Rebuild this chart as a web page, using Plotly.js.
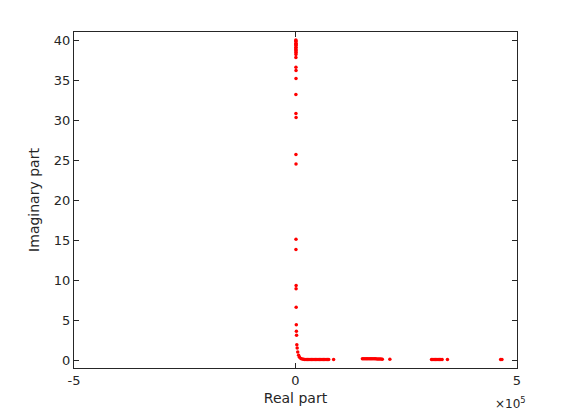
<!DOCTYPE html>
<html>
<head>
<meta charset="utf-8">
<script src="https://cdn.plot.ly/plotly-3.0.1.min.js"></script>
<style>body{margin:0;background:#fff}</style>
</head>
<body>
<div id="eig"></div>
<script>
// eigenvalues: real and imaginary parts
var realPart = [
  // vertical branch near zero
  800,900,1000,1100,1000,900,1200,1000,800,900,1100,1000,1200,1000,900,
  1000,1200,1100,900,1000,1300,1000,1200,1100,1000,1400,1300,1500,1800,2000,
  2400,3000,3800,
  // bend + first cluster along the axis
  5000,7000,9000,12000,15000,18000,21000,24000,27000,30000,33000,36000,39000,
  42000,45000,48000,51000,54000,57000,60000,63000,66000,69000,72000,75000,86000,
  // second cluster
  151000,154000,157000,160000,163000,166000,169000,172000,175000,178000,181000,
  184000,187000,190000,193000,196000,213000,
  // third cluster
  307000,310000,313000,316000,319000,322000,325000,328000,331000,343000,
  // lone far point
  463000,466000
];
var imagPart = [
  40.0,39.9,39.8,39.6,39.5,39.4,39.3,39.1,39.0,38.8,38.7,38.5,38.4,38.2,37.8,
  36.6,36.2,35.2,33.2,30.8,30.3,25.7,24.5,15.1,13.8,9.3,8.9,6.6,4.4,3.6,
  3.1,1.9,1.5,
  1.0,0.6,0.35,0.2,0.12,0.08,0.06,0.05,0.05,0.05,0.05,0.05,0.05,
  0.05,0.05,0.05,0.05,0.05,0.05,0.05,0.05,0.05,0.05,0.05,0.05,0.05,
  0.15,0.15,0.16,0.16,0.17,0.17,0.17,0.16,0.16,0.15,0.15,
  0.14,0.13,0.12,0.12,0.1,0.08,
  0.05,0.05,0.05,0.05,0.05,0.05,0.05,0.05,0.05,0.05,
  0.05,0.05
];

var xTicks = [-5e5, 0, 5e5];
var xTickText = ['-5', '0', '5'];
var yTicks = [0, 5, 10, 15, 20, 25, 30, 35, 40];

var trace = {
  x: realPart,
  y: imagPart,
  type: 'scatter',
  mode: 'markers',
  marker: {color: '#ff0000', size: 3.5},
  hoverinfo: 'x+y'
};

var axisStyle = {
  showline: true,
  linecolor: '#262626',
  linewidth: 1,
  mirror: 'ticks',
  ticks: 'inside',
  ticklen: 5,
  tickcolor: '#262626',
  showgrid: false,
  zeroline: false,
  tickfont: {family: 'DejaVu Sans, sans-serif', size: 13, color: '#262626'}
};

var layout = {
  width: 570,
  height: 413,
  margin: {l: 74, r: 53, t: 32, b: 45},
  paper_bgcolor: '#ffffff',
  plot_bgcolor: '#ffffff',
  showlegend: false,
  font: {family: 'DejaVu Sans, sans-serif', color: '#262626'},
  xaxis: Object.assign({}, axisStyle, {
    range: [-5e5, 5e5],
    tickvals: xTicks,
    ticktext: xTickText,
    title: {text: 'Real part', font: {size: 14, color: '#262626'}, standoff: 6}
  }),
  yaxis: Object.assign({}, axisStyle, {
    range: [-1, 41],
    tickvals: yTicks,
    title: {text: 'Imaginary part', font: {size: 14, color: '#262626'}, standoff: 10}
  }),
  annotations: [{
    xref: 'paper', yref: 'paper',
    x: 1.025, y: -0.075,
    xanchor: 'right', yanchor: 'top',
    text: '\u00d710<sup>5</sup>',
    showarrow: false,
    font: {size: 12, color: '#262626'}
  }]
};

Plotly.newPlot('eig', [trace], layout, {displayModeBar: false, staticPlot: true});
</script>
</body>
</html>
